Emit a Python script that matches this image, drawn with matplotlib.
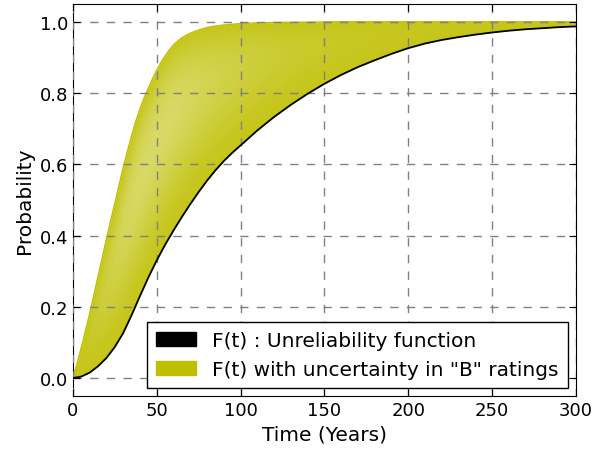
import numpy as np
import matplotlib
matplotlib.use("Agg")
import matplotlib.pyplot as plt
from matplotlib.patches import Patch
from matplotlib.colors import to_rgb

# --- values ---
t_base = [0, 5, 10, 15, 20, 25, 30, 35, 40, 45, 50, 55, 60, 65, 70, 75, 80, 85,
          90, 95, 100, 110, 120, 130, 140, 150, 160, 170, 180, 190, 200, 210,
          220, 230, 240, 250, 260, 270, 280, 290, 300]
F_base = [0.0, 0.004, 0.015, 0.033, 0.056, 0.087, 0.126, 0.176, 0.23, 0.282,
          0.33, 0.374, 0.414, 0.452, 0.488, 0.522, 0.554, 0.583, 0.609, 0.632,
          0.653, 0.695, 0.733, 0.767, 0.798, 0.826, 0.851, 0.873, 0.892, 0.91,
          0.926, 0.939, 0.949, 0.957, 0.964, 0.97, 0.975, 0.979, 0.982, 0.985,
          0.987]

t_upper = [0, 2.5, 5, 7.5, 10, 12.5, 15, 17.5, 20, 22.5, 25, 27.5, 30, 32.5, 35,
           37.5, 40, 42.5, 45, 47.5, 50, 52.5, 55, 57.5, 60, 62.5, 65, 67.5, 70,
           75, 80, 85, 90, 95, 100, 110, 120, 140, 160, 200, 250, 300]
F_upper = [0.0, 0.04, 0.085, 0.132, 0.18, 0.232, 0.285, 0.337, 0.39, 0.44, 0.49,
           0.54, 0.59, 0.636, 0.68, 0.72, 0.755, 0.786, 0.814, 0.84, 0.864,
           0.885, 0.904, 0.921, 0.935, 0.946, 0.955, 0.962, 0.968, 0.977, 0.984,
           0.988, 0.991, 0.993, 0.995, 0.997, 0.998, 0.999, 1.0, 1.0, 1.0, 1.0]

x_ticks = [0, 50, 100, 150, 200, 250, 300]
y_ticks = [0.0, 0.2, 0.4, 0.6, 0.8, 1.0]

BAND = "#bfbf00"

plt.rcParams["xtick.direction"] = "in"
plt.rcParams["ytick.direction"] = "in"
plt.rcParams["xtick.top"] = True
plt.rcParams["ytick.right"] = True

fig = plt.figure(figsize=(5.92, 4.52), dpi=100)
ax = fig.add_axes([0.123, 0.122, 0.850, 0.867])

# shaded band: olive-yellow, a little lighter where the band is wide
tg = np.linspace(0, 300, 900)
fg = np.linspace(-0.05, 1.05, 700)
lo = np.interp(tg, t_base, F_base)
hi = np.interp(tg, t_upper, F_upper)
T, F = np.meshgrid(tg, fg)
LO = np.broadcast_to(lo, T.shape)
HI = np.broadcast_to(hi, T.shape)
width = np.maximum(HI - LO, 1e-6)
frac = np.clip((F - LO) / width, 0, 1)
inside = (F >= LO) & (F <= HI)
light = 0.36 * np.sin(np.pi * frac ** 1.5) * np.clip(width / 0.6, 0, 1) ** 1.5 + 0.1
c = np.array(to_rgb(BAND))
rgba = np.zeros(T.shape + (4,))
rgba[..., :3] = c + (1 - c) * light[..., None]
rgba[..., 3] = inside.astype(float)
ax.imshow(rgba, extent=(0, 300, -0.05, 1.05), origin="lower", aspect="auto",
          interpolation="bilinear", zorder=1)

ax.plot(t_upper, F_upper, color=BAND, lw=1.0, zorder=2)
ax.plot(t_base, F_base, color="black", lw=1.3, zorder=3)

ax.set_xlim(0, 300)
ax.set_ylim(-0.05, 1.05)
ax.set_xticks(x_ticks)
ax.set_yticks(y_ticks)
ax.tick_params(labelsize=13, length=5, width=0.8)
ax.set_xlabel("Time (Years)", fontsize=14.5)
ax.set_ylabel("Probability", fontsize=14.5)
ax.grid(True, ls="--", color="gray", lw=1.0, dashes=(6, 6))
ax.set_axisbelow(False)
for g in ax.get_xgridlines() + ax.get_ygridlines():
    g.set_zorder(4)

handles = [Patch(facecolor="black", edgecolor="black",
                 label="F(t) : Unreliability function"),
           Patch(facecolor=BAND, edgecolor=BAND,
                 label='F(t) with uncertainty in "B" ratings')]
leg = ax.legend(handles=handles, loc="lower right", fontsize=14.5,
                fancybox=False, framealpha=1, edgecolor="black",
                borderaxespad=0.4, handlelength=2.0, labelspacing=0.5,
                borderpad=0.45)
leg.get_frame().set_linewidth(1.0)
leg.set_zorder(5)

fig.savefig("out.png", dpi=100)
